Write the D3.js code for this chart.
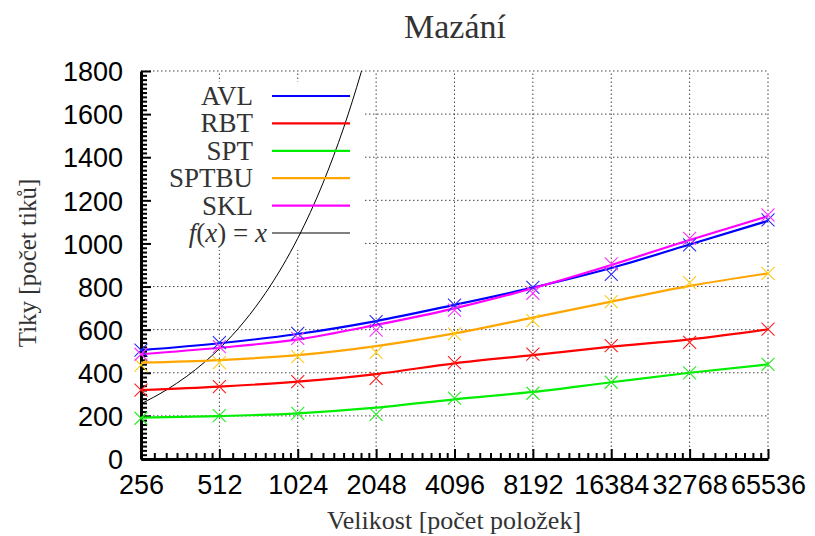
<!DOCTYPE html>
<html>
<head>
<meta charset="utf-8">
<script src="https://cdn.jsdelivr.net/npm/d3@7"></script>
<style>
  body { margin: 0; background: #fff; }
  svg { display: block; }
  .tick-label { font-family: "Liberation Sans", Arial, sans-serif; font-size: 27px; fill: #000; }
  .serif { font-family: "Liberation Serif", "DejaVu Serif", serif; fill: #333; }
</style>
</head>
<body>
<svg id="chart" width="815" height="536"></svg>
<script>
// x positions (problem size, log2 axis)
const sizes = [256, 512, 1024, 2048, 4096, 8192, 16384, 32768, 65536];
const yTicks = [0, 200, 400, 600, 800, 1000, 1200, 1400, 1600, 1800];

// measured points (X markers)
const avlPoints = [505, 540, 583, 637, 714, 796, 857, 993, 1109];
const rbtPoints = [320, 336, 359, 374, 447, 487, 526, 541, 602];
const sptPoints = [189, 201, 212, 207, 282, 305, 356, 400, 439];
const sptbuPoints = [436, 447, 475, 495, 580, 642, 730, 818, 861];
const sklPoints = [486, 521, 560, 598, 691, 769, 905, 1024, 1132];

// fitted curves read at each size
const avlFit = [505, 537, 580, 640, 715, 795, 886, 995, 1105];
const rbtFit = [320, 336, 359, 394, 444, 482, 521, 555, 602];
const sptFit = [192, 199, 212, 238, 277, 311, 356, 400, 439];
const sptbuFit = [447, 459, 482, 524, 583, 656, 730, 803, 861];
const sklFit = [486, 516, 555, 622, 699, 792, 900, 1016, 1127];

// reference curve f(x) = x
const fxX = [256, 320, 384, 448, 512, 640, 768, 896, 1024, 1280, 1536, 1792, 1800];
const fxY = [256, 320, 384, 448, 512, 640, 768, 896, 1024, 1280, 1536, 1792, 1800];

const series = [
  { name: "AVL", fit: avlFit, pts: avlPoints, color: "#0000ff", mark: "#2a2aff" },
  { name: "RBT", fit: rbtFit, pts: rbtPoints, color: "#ff0000", mark: "#ff1a1a" },
  { name: "SPT", fit: sptFit, pts: sptPoints, color: "#00ee00", mark: "#22ee22" },
  { name: "SPTBU", fit: sptbuFit, pts: sptbuPoints, color: "#ffa500", mark: "#ffcc11" },
  { name: "SKL", fit: sklFit, pts: sklPoints, color: "#ff00ff", mark: "#ff33ff" },
];

const svg = d3.select("#chart");
const x = d3.scaleLog().base(2).domain([256, 65536]).range([141, 768]);
const y = d3.scaleLinear().domain([0, 1800]).range([459, 71]);

// grid
const grid = svg.append("g").attr("stroke", "#444").attr("stroke-width", 1).attr("stroke-dasharray", "1.5,2.5");
grid.selectAll("line.gx").data(sizes.slice(1)).join("line")
  .attr("x1", (d) => x(d)).attr("x2", (d) => x(d))
  .attr("y1", y(0)).attr("y2", y(1800));
grid.selectAll("line.gy").data(yTicks.slice(1)).join("line")
  .attr("class", "gy")
  .attr("x1", x(256)).attr("x2", x(65536))
  .attr("y1", (d) => y(d)).attr("y2", (d) => y(d));

// legend background covers grid
svg.append("rect").attr("x", 143).attr("y", 82).attr("width", 221).attr("height", 168).attr("fill", "#fff");

// minor ticks
const xMinor = [];
sizes.slice(0, -1).forEach((s) => { for (let k = 1; k < 8; k++) xMinor.push(s * (1 + k / 8)); });
const yMinor = d3.range(0, 1801, 20).filter((v) => v % 200 !== 0);

svg.append("g").attr("transform", `translate(0,${y(0)})`)
  .call(d3.axisBottom(x).tickValues(xMinor).tickFormat(() => "").tickSizeInner(-6).tickSizeOuter(0))
  .call((g) => g.select(".domain").remove())
  .selectAll("line").attr("stroke-width", 2);
svg.append("g").attr("transform", `translate(${x(256)},0)`)
  .call(d3.axisLeft(y).tickValues(yMinor).tickFormat(() => "").tickSizeInner(-6).tickSizeOuter(0))
  .call((g) => g.select(".domain").remove())
  .selectAll("line").attr("stroke-width", 2);

// major axes
const xAxis = svg.append("g").attr("transform", `translate(0,${y(0)})`)
  .call(d3.axisBottom(x).tickValues(sizes).tickFormat(d3.format("d")).tickSizeInner(-10).tickSizeOuter(0).tickPadding(16));
const yAxis = svg.append("g").attr("transform", `translate(${x(256)},0)`)
  .call(d3.axisLeft(y).tickValues(yTicks).tickFormat(d3.format("d")).tickSizeInner(-10).tickSizeOuter(0).tickPadding(18));
[xAxis, yAxis].forEach((g) => {
  g.select(".domain").attr("stroke", "#000").attr("stroke-width", 3);
  g.selectAll(".tick line").attr("stroke", "#000").attr("stroke-width", 2);
  g.selectAll(".tick text").attr("class", "tick-label").attr("font-family", null).attr("font-size", null);
});
yAxis.selectAll(".tick text").attr("dy", "0.36em");

// clip to plot area
svg.append("clipPath").attr("id", "plot-clip").append("rect")
  .attr("x", x(256)).attr("y", y(1800)).attr("width", x(65536) - x(256)).attr("height", y(0) - y(1800));

const plot = svg.append("g").attr("clip-path", "url(#plot-clip)");

const line = d3.line().x((d) => x(d[0])).y((d) => y(d[1])).curve(d3.curveMonotoneX);

plot.append("path")
  .attr("fill", "none").attr("stroke", "#000").attr("stroke-width", 1)
  .attr("d", line(fxX.map((v, i) => [v, fxY[i]])));

series.forEach((s) => {
  plot.append("path")
    .attr("fill", "none").attr("stroke", s.color).attr("stroke-width", 2.2)
    .attr("d", line(sizes.map((v, i) => [v, s.fit[i]])));
});

const m = 6.5;
series.forEach((s) => {
  svg.append("g").selectAll("path").data(sizes).join("path")
    .attr("fill", "none").attr("stroke", s.mark).attr("stroke-width", 1.1)
    .attr("d", (d, i) => {
      const cx = x(d), cy = y(s.pts[i]);
      return `M${cx - m},${cy - m}L${cx + m},${cy + m}M${cx - m},${cy + m}L${cx + m},${cy - m}`;
    });
});

// legend
const legendRows = series.map((s) => s.name).concat(["f(x)"]);
const legend = svg.append("g");
legendRows.forEach((name, i) => {
  const ry = 96 + i * 27.4;
  const color = i < series.length ? series[i].color : "#000";
  legend.append("line")
    .attr("x1", 272).attr("x2", 350).attr("y1", ry).attr("y2", ry)
    .attr("stroke", color).attr("stroke-width", i < series.length ? 2.2 : 1);
  const t = legend.append("text").attr("class", "serif")
    .attr("x", i < series.length ? 253 : 267).attr("y", ry + 9)
    .attr("text-anchor", "end").attr("font-size", 27);
  if (i < series.length) {
    t.text(name);
  } else {
    t.append("tspan").attr("font-style", "italic").text("f");
    t.append("tspan").text("(");
    t.append("tspan").attr("font-style", "italic").text("x");
    t.append("tspan").text(") = ");
    t.append("tspan").attr("font-style", "italic").text("x");
  }
});

// titles
svg.append("text").attr("class", "serif")
  .attr("x", 455).attr("y", 38).attr("text-anchor", "middle").attr("font-size", 34)
  .text("Mazání");
svg.append("text").attr("class", "serif")
  .attr("x", 454).attr("y", 529).attr("text-anchor", "middle").attr("font-size", 26)
  .text("Velikost [počet položek]");
svg.append("text").attr("class", "serif")
  .attr("transform", "translate(36,263) rotate(-90)").attr("text-anchor", "middle").attr("font-size", 25)
  .text("Tiky [počet tiků]");
</script>
</body>
</html>
